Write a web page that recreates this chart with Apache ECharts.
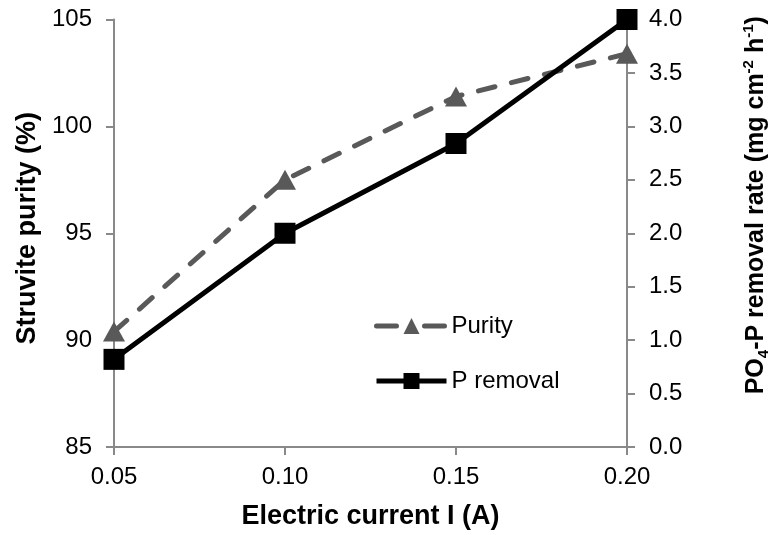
<!DOCTYPE html>
<html>
<head>
<meta charset="utf-8">
<script src="https://cdn.jsdelivr.net/npm/echarts@6/dist/echarts.min.js"></script>
<style>
  html, body { margin: 0; padding: 0; background: #fff; }
  #chart { width: 779px; height: 535px; }
</style>
</head>
<body>
<div id="chart"></div>
<script>
// Electric current (A) on the x axis
const currents = ['0.05', '0.10', '0.15', '0.20'];
// Struvite purity (%), left axis
const purity = [90.4, 97.5, 101.4, 103.4];
// PO4-P removal rate (mg cm-2 h-1), right axis
const pRemoval = [0.82, 2.0, 2.84, 4.0];

const FONT = '"Liberation Sans", Arial, sans-serif';
const AXIS_GRAY = '#898989';
const TICK_SIZE = 24;
const TITLE_SIZE = 27;

const chart = echarts.init(document.getElementById('chart'), null, { renderer: 'canvas' });

chart.setOption({
  animation: false,
  backgroundColor: '#ffffff',
  textStyle: { fontFamily: FONT },
  grid: { left: 114, right: 128, top: 19.5, bottom: 86.5, containLabel: false },
  legend: {
    orient: 'vertical',
    left: 369,
    top: 309,
    itemWidth: 70,
    itemHeight: 20,
    itemGap: 31,
    textStyle: { fontFamily: FONT, fontSize: TICK_SIZE, color: '#000' },
    data: [
      { name: 'Purity', lineStyle: { width: 5, type: [20, 28], cap: 'round' } },
      { name: 'P removal', lineStyle: { width: 5 } }
    ]
  },
  xAxis: {
    type: 'category',
    data: currents,
    boundaryGap: false,
    name: 'Electric current I (A)',
    nameLocation: 'middle',
    nameGap: 56,
    nameTextStyle: { fontFamily: FONT, fontSize: TITLE_SIZE, fontWeight: 'bold', color: '#000' },
    axisLine: { lineStyle: { color: AXIS_GRAY, width: 2 } },
    axisTick: { show: true, length: 8, lineStyle: { color: AXIS_GRAY, width: 2 } },
    axisLabel: { fontFamily: FONT, fontSize: TICK_SIZE, color: '#000', margin: 18 },
    splitLine: { show: false }
  },
  yAxis: [
    {
      type: 'value',
      min: 85, max: 105, interval: 5,
      position: 'left',
      name: 'Struvite purity (%)',
      nameLocation: 'middle',
      nameGap: 73,
      nameRotate: 90,
      nameTextStyle: {
        fontFamily: FONT, fontSize: TITLE_SIZE, fontWeight: 'bold', color: '#000',
        padding: [0, 0, 0, 10]
      },
      axisLine: { show: true, lineStyle: { color: AXIS_GRAY, width: 2 } },
      axisTick: { show: true, length: 8, lineStyle: { color: AXIS_GRAY, width: 2 } },
      axisLabel: { fontFamily: FONT, fontSize: TICK_SIZE, color: '#000', margin: 22 },
      splitLine: { show: false }
    },
    {
      type: 'value',
      min: 0, max: 4, interval: 0.5,
      position: 'right',
      name: '{b|PO}{sub|4}{b|-P removal rate (mg cm}{sup|-2}{b| h}{sup|-1}{b|)}',
      nameLocation: 'middle',
      nameGap: 114,
      nameRotate: 90,
      nameTextStyle: {
        fontFamily: FONT, fontSize: 25, fontWeight: 'bold', color: '#000',
        padding: [0, 0, 0, 56],
        rich: {
          b: { fontFamily: FONT, fontSize: 25, fontWeight: 'bold', color: '#000', lineHeight: 30, verticalAlign: 'middle' },
          sub: { fontFamily: FONT, fontSize: 15, fontWeight: 'bold', color: '#000', lineHeight: 30, verticalAlign: 'bottom', padding: [12, 0, 0, 0] },
          sup: { fontFamily: FONT, fontSize: 15, fontWeight: 'bold', color: '#000', lineHeight: 30, verticalAlign: 'top', padding: [0, 0, 12, 0] }
        }
      },
      axisLine: { show: true, lineStyle: { color: AXIS_GRAY, width: 2 } },
      axisTick: { show: true, length: 8, lineStyle: { color: AXIS_GRAY, width: 2 } },
      axisLabel: {
        fontFamily: FONT, fontSize: TICK_SIZE, color: '#000', margin: 22,
        formatter: v => v.toFixed(1)
      },
      splitLine: { show: false }
    }
  ],
  series: [
    {
      name: 'Purity',
      type: 'line',
      yAxisIndex: 0,
      data: purity,
      symbol: 'triangle',
      symbolSize: [22, 20],
      itemStyle: { color: '#595959' },
      lineStyle: { color: '#595959', width: 5, type: [17, 17], cap: 'round' },
      z: 2
    },
    {
      name: 'P removal',
      type: 'line',
      yAxisIndex: 1,
      data: pRemoval,
      symbol: 'rect',
      symbolSize: 21,
      itemStyle: { color: '#000000' },
      lineStyle: { color: '#000000', width: 5 },
      z: 3
    }
  ]
});
</script>
</body>
</html>
